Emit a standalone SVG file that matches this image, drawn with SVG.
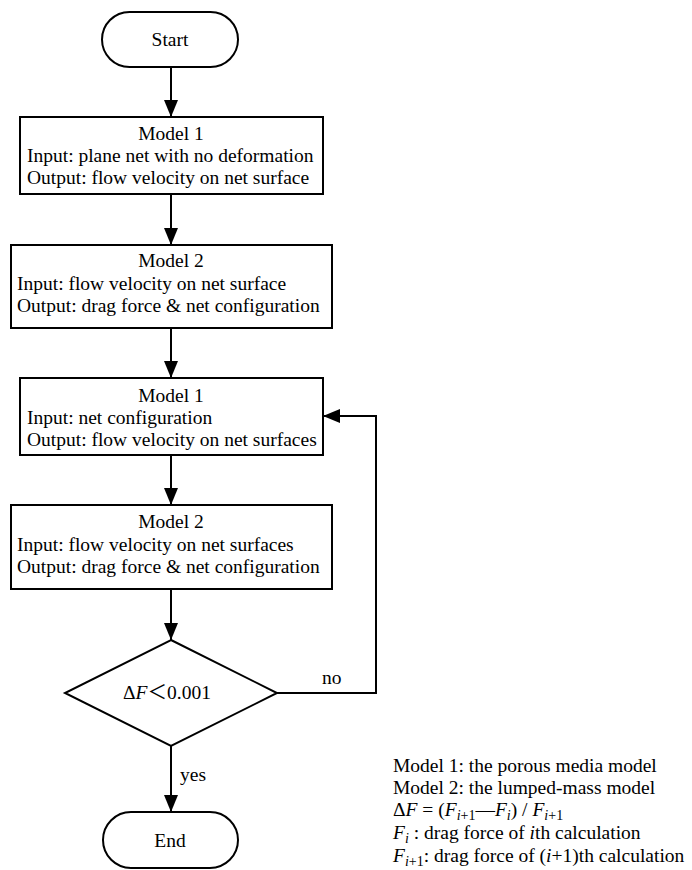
<svg xmlns="http://www.w3.org/2000/svg" width="692" height="870" viewBox="0 0 692 870" font-family="'Liberation Serif', serif">
<style>
text{font-family:"Liberation Serif","Noto Sans CJK SC",serif;font-size:19.5px;fill:#000}
.c{text-anchor:middle}
.s{fill:#fff;stroke:#000;stroke-width:2}
.l{fill:none;stroke:#000;stroke-width:2}
.sub{font-size:14px}
</style>
<defs>
<marker id="ah" markerWidth="17" markerHeight="14" refX="17" refY="7" orient="auto" markerUnits="userSpaceOnUse" viewBox="0 0 17 14">
<path d="M0,0 L17,7 L0,14 Z" fill="#000"/>
</marker>
</defs>
<rect width="692" height="870" fill="#fff"/>
<g id="connectors">
<line class="l" x1="171" y1="67" x2="171" y2="117" marker-end="url(#ah)"/>
<line class="l" x1="171" y1="194" x2="171" y2="245" marker-end="url(#ah)"/>
<line class="l" x1="171" y1="328" x2="171" y2="378" marker-end="url(#ah)"/>
<line class="l" x1="171" y1="455" x2="171" y2="505" marker-end="url(#ah)"/>
<line class="l" x1="171" y1="589" x2="171" y2="640" marker-end="url(#ah)"/>
<line class="l" x1="171" y1="746" x2="171" y2="812" marker-end="url(#ah)"/>
<polyline class="l" points="277,693 376,693 376,416 323,416" marker-end="url(#ah)"/>
<text x="322" y="684">no</text>
<text x="180" y="781">yes</text>
</g>
<g id="start">
<rect class="s" x="102" y="12" width="136" height="55" rx="27.5"/>
<text class="c" x="170" y="46">Start</text>
</g>
<g id="model1a">
<rect class="s" x="20" y="117" width="303" height="77"/>
<text class="c" x="171" y="140">Model 1</text>
<text x="27" y="162">Input: plane net with no deformation</text>
<text x="27" y="184">Output: flow velocity on net surface</text>
</g>
<g id="model2a">
<rect class="s" x="11" y="245" width="321" height="83"/>
<text class="c" x="171" y="267">Model 2</text>
<text x="17" y="290">Input: flow velocity on net surface</text>
<text x="17" y="312">Output: drag force &amp; net configuration</text>
</g>
<g id="model1b">
<rect class="s" x="20" y="378" width="303" height="77"/>
<text class="c" x="171" y="402">Model 1</text>
<text x="27" y="424">Input: net configuration</text>
<text x="27" y="446">Output: flow velocity on net surfaces</text>
</g>
<g id="model2b">
<rect class="s" x="11" y="505" width="321" height="84"/>
<text class="c" x="171" y="528">Model 2</text>
<text x="17" y="551">Input: flow velocity on net surfaces</text>
<text x="17" y="573">Output: drag force &amp; net configuration</text>
</g>
<g id="decision">
<polygon class="s" points="171,640 277,693 171,746 65,693"/>
<text class="c" x="167" y="699">Δ<tspan font-style="italic">F</tspan>＜0.001</text>
</g>
<g id="end">
<rect class="s" x="103" y="812" width="135" height="56" rx="28"/>
<text class="c" x="170" y="847">End</text>
</g>
<g id="legend">
<text x="393" y="772">Model 1: the porous media model</text>
<text x="393" y="794">Model 2: the lumped-mass model</text>
<text x="393" y="816">Δ<tspan font-style="italic">F</tspan> = (<tspan font-style="italic">F</tspan><tspan class="sub" dy="4"><tspan font-style="italic">i</tspan>+1</tspan><tspan dy="-4">—</tspan><tspan font-style="italic">F</tspan><tspan class="sub" dy="4" font-style="italic">i</tspan><tspan dy="-4">) / </tspan><tspan font-style="italic">F</tspan><tspan class="sub" dy="4"><tspan font-style="italic">i</tspan>+1</tspan></text>
<text x="393" y="839"><tspan font-style="italic">F</tspan><tspan class="sub" dy="4" font-style="italic">i</tspan><tspan dy="-4"> : drag force of </tspan><tspan font-style="italic">i</tspan>th calculation</text>
<text x="393" y="862"><tspan font-style="italic">F</tspan><tspan class="sub" dy="4"><tspan font-style="italic">i</tspan>+1</tspan><tspan dy="-4">: drag force of (</tspan><tspan font-style="italic">i</tspan>+1)th calculation</text>
</g>
</svg>
